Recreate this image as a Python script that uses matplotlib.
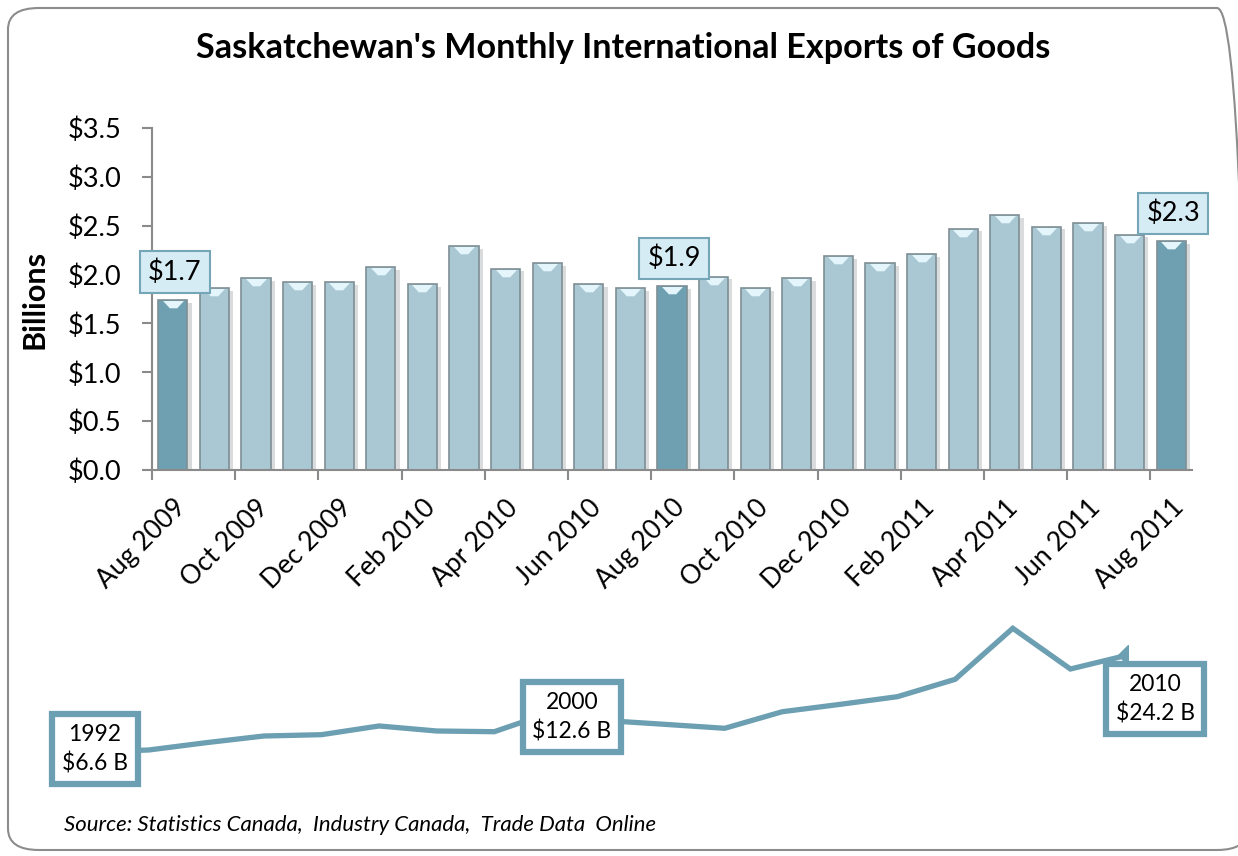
import matplotlib
matplotlib.use("Agg")
from matplotlib import pyplot as plt
from matplotlib.patches import FancyBboxPatch
from matplotlib.path import Path
import matplotlib.patheffects as pe

plt.rcParams['font.family'] = ['Lato', 'DejaVu Sans']

# Exportações mensais (bilhões de dólares)
meses = ['Aug 2009', 'Sep 2009', 'Oct 2009', 'Nov 2009', 'Dec 2009', 'Jan 2010',
         'Feb 2010', 'Mar 2010', 'Apr 2010', 'May 2010', 'Jun 2010', 'Jul 2010',
         'Aug 2010', 'Sep 2010', 'Oct 2010', 'Nov 2010', 'Dec 2010', 'Jan 2011',
         'Feb 2011', 'Mar 2011', 'Apr 2011', 'May 2011', 'Jun 2011', 'Jul 2011',
         'Aug 2011']
valores = [1.74, 1.86, 1.96, 1.92, 1.92, 2.08, 1.90, 2.29, 2.06, 2.12, 1.90, 1.86,
           1.88, 1.98, 1.86, 1.96, 2.19, 2.12, 2.21, 2.47, 2.61, 2.49, 2.53, 2.41,
           2.34]
destaques = [0, 12, 24]  # barras escuras com rótulo

# Exportações anuais (linha de baixo)
anos = [1992, 1993, 1994, 1995, 1996, 1997, 1998, 1999, 2000, 2001,
        2002, 2003, 2004, 2005, 2006, 2007, 2008, 2009, 2010]
anuais = [6.6, 6.96, 8.29, 9.50, 9.74, 11.32, 10.41, 10.28, 13.86, 12.26,
          11.59, 10.90, 13.91, 15.24, 16.64, 19.79, 29.05, 21.66, 24.2]
anos_rotulo = [1992, 2000, 2010]
textos_rotulo = ['1992\n$6.6 B', '2000\n$12.6 B', '2010\n$24.2 B']
desloc_rotulo = [(4, 3), (20, -5), (27, -44)]

W, H = 1238, 856
fig = plt.figure(figsize=(W / 100, H / 100), dpi=100)

# moldura arredondada
moldura = FancyBboxPatch((8 / W, 6 / H), 1240 / W, 842 / H,
                         boxstyle="round,pad=0,rounding_size=0.025",
                         transform=fig.transFigure, facecolor='none',
                         edgecolor='#8c8c8c', linewidth=1.5, zorder=-1)
fig.patches.append(moldura)

fig.text(623 / W, 1 - 48 / H, "Saskatchewan's Monthly International Exports of Goods",
         ha='center', va='center', fontsize=24.6, fontweight='bold')

# ---- gráfico de barras ----
ax = fig.add_axes([152 / W, 1 - 470 / H, 1040 / W, 342 / H])
ax.set_facecolor('none')
x = list(range(len(valores)))
cores = ['#6fa0b2' if i in destaques else '#aac8d4' for i in x]
bars = ax.bar(x, valores, width=0.7, color=cores, edgecolor='#7e8f95',
              linewidth=1.2, zorder=2)
for b in bars:
    b.set_path_effects([pe.SimplePatchShadow(offset=(3, -2), alpha=0.18), pe.Normal()])

# brilho no topo das barras
topo = Path([(-1, -0.05), (1, -0.05), (0.35, -0.75), (-0.35, -0.75), (-1, -0.05)])
ax.plot(x, valores, linestyle='none', marker=topo, markersize=15,
        markerfacecolor='#e4f6fb', markeredgecolor='none', zorder=3)

for i in destaques:
    ax.annotate(f'${valores[i]:.1f}', (i, valores[i]), xytext=(2, 15),
                textcoords='offset pixels', ha='center', va='bottom',
                fontsize=19.5, zorder=5,
                bbox=dict(boxstyle='square,pad=0.3', facecolor='#d6ecf5',
                          edgecolor='#74a6b8', linewidth=1.5))

ax.set_xlim(-0.5, len(valores) - 0.5)
ax.set_ylim(0, 3.5)
ax.set_yticks([0, 0.5, 1, 1.5, 2, 2.5, 3, 3.5])
ax.set_yticklabels([f'${v:.1f}' for v in [0, 0.5, 1, 1.5, 2, 2.5, 3, 3.5]])
ax.set_xticks(x[::2])
ax.set_xticklabels(meses[::2], rotation=45, ha='right', rotation_mode='anchor')
ax.set_xticks([i - 0.5 for i in x[::2]], minor=True)
ax.tick_params(axis='x', which='major', length=0, pad=18, labelsize=19)
ax.tick_params(axis='x', which='minor', length=7, width=1.5, color='#8a8a8a')
ax.tick_params(axis='y', length=7, width=1.5, color='#8a8a8a', pad=15, labelsize=19.5)
for s in ['top', 'right']:
    ax.spines[s].set_visible(False)
for s in ['left', 'bottom']:
    ax.spines[s].set_color('#8a8a8a')
    ax.spines[s].set_linewidth(1.5)
ax.set_ylabel('Billions', fontsize=22, fontweight='bold')
ax.yaxis.set_label_coords(-0.1, 0.5)

# ---- linha das exportações anuais ----
ax2 = fig.add_axes([91 / W, 1 - 790 / H, 1037 / W, 180 / H])
ax2.set_facecolor('none')
ax2.plot(anos, anuais, color='#6b9fb1', linewidth=3.8, solid_joinstyle='miter', zorder=2)
ax2.plot(anos[-1:], anuais[-1:], linestyle='none', marker='D', markersize=10,
         color='#6b9fb1', zorder=2)
for ano, txt, off in zip(anos_rotulo, textos_rotulo, desloc_rotulo):
    k = anos.index(ano)
    ax2.annotate(txt, (ano, anuais[k]), xytext=off, textcoords='offset pixels',
                 ha='center', va='center', fontsize=16.5, linespacing=1.4,
                 zorder=5, annotation_clip=False,
                 bbox=dict(boxstyle='square,pad=0.42', facecolor='white',
                           edgecolor='#6b9fb1', linewidth=4.5))
ax2.set_xlim(1992, 2010)
ax2.set_ylim(-0.3, 32.37)
ax2.axis('off')

fig.text(64 / W, 1 - 825 / H,
         'Source: Statistics Canada,  Industry Canada,  Trade Data  Online',
         ha='left', va='center', fontsize=15.9, style='italic')

plt.savefig('out.png', dpi=100)
